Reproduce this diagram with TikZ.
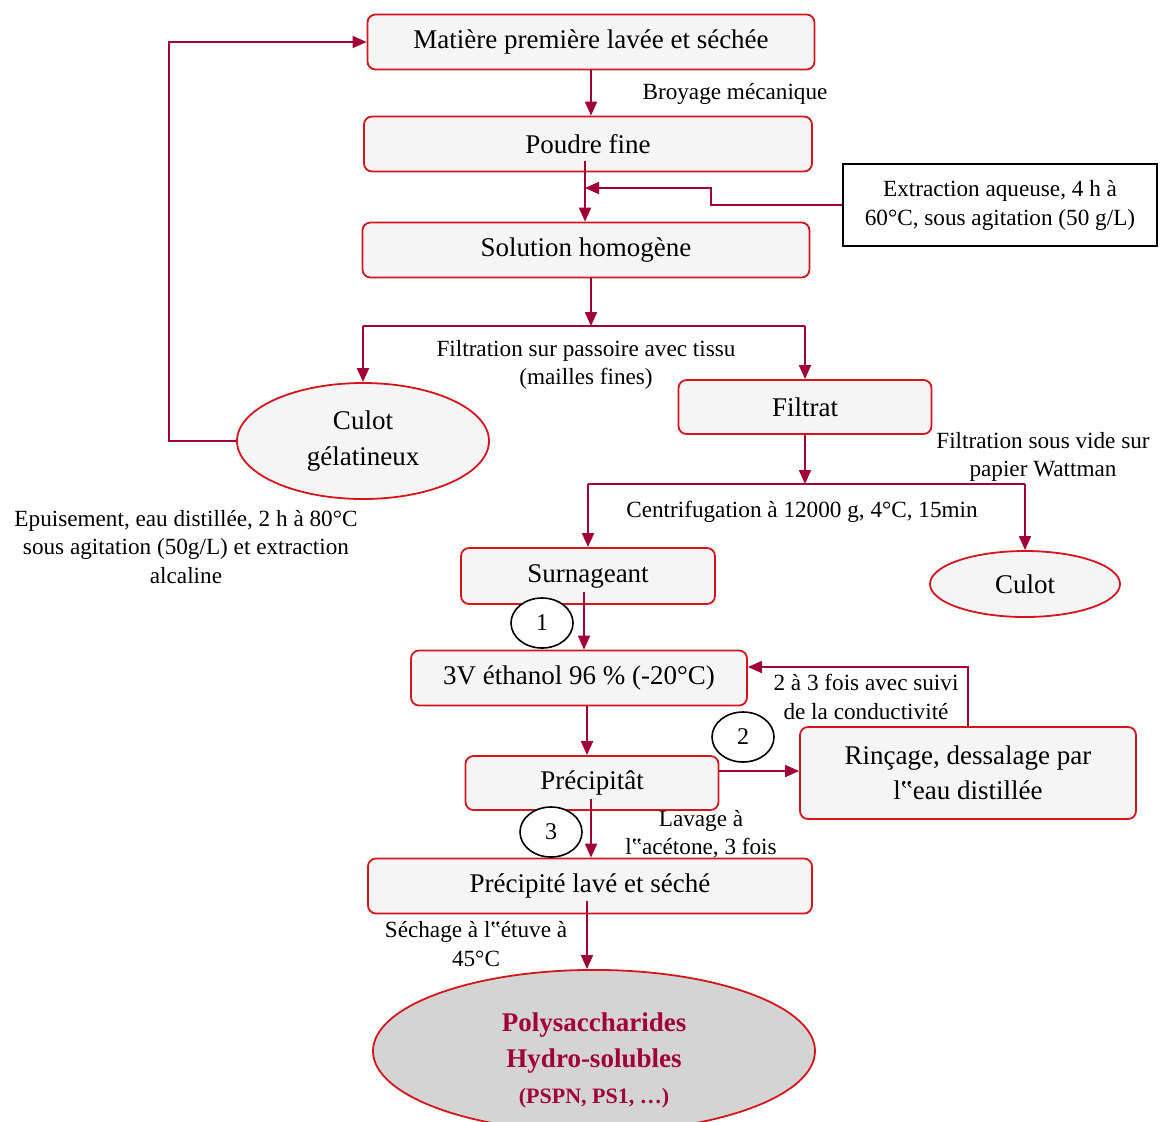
\documentclass[tikz,border=0pt]{standalone}
\usepackage{fontspec}
\setmainfont{Liberation Serif}
\usetikzlibrary{arrows.meta,calc,positioning,shapes.geometric}
\definecolor{flowred}{RGB}{160,0,55}
\definecolor{boxred}{RGB}{212,22,28}
\definecolor{ovalgray}{RGB}{212,212,212}
\tikzset{
  process box/.style={draw=boxred,rounded corners=4pt,fill=black!4,
    line width=0.9pt,inner sep=2pt,align=center,
    font={\fontsize{13.5}{17.5}\selectfont}},
  product oval/.style={ellipse,draw=boxred,fill=black!4,line width=0.9pt,
    inner sep=0pt,align=center,font={\fontsize{13.5}{18}\selectfont}},
  note box/.style={draw=black,line width=0.8pt,fill=white,align=center,
    font={\fontsize{11.6}{14.5}\selectfont}},
  stage label/.style={align=center,font={\fontsize{11.6}{14.3}\selectfont}},
  count mark/.style={ellipse,draw=black,line width=0.8pt,fill=white,
    minimum width=31pt,minimum height=25pt,inner sep=0pt,
    font={\fontsize{12}{14}\selectfont}},
  flow arrow/.style={-{Triangle[length=7pt,width=6pt]},draw=flowred,line width=0.9pt},
  flow line/.style={draw=flowred,line width=0.9pt},
}

\begin{document}
\begin{tikzpicture}[x=0.5pt,y=-0.5pt]
  \useasboundingbox (0,0) rectangle (1161,1121);
  \clip (0,0) rectangle (1161,1121);

  % Main column
  \node[process box,minimum width=223.5pt,minimum height=27.5pt] (raw) at (591,42)
    {Matière première lavée et séchée};
  \node[process box,minimum width=224pt,minimum height=27.5pt] (powder) at (588,144)
    {Poudre fine};
  \node[note box,minimum width=157pt,minimum height=41pt] (extract) at (1000,205)
    {Extraction aqueuse, 4 h à\\60°C, sous agitation (50 g/L)};
  \node[process box,minimum width=223.5pt,minimum height=27.5pt] (solution) at (586,250)
    {Solution homogène};

  % First filtration
  \node[product oval,minimum width=126pt,minimum height=58pt] (culotgel) at (363,441)
    {Culot\\gélatineux};
  \node[process box,minimum width=126.5pt,minimum height=27pt] (filtrat) at (805,407)
    {Filtrat};
  \node[process box,minimum width=127pt,minimum height=28pt] (surnag) at (588,576)
    {Surnageant};
  \node[product oval,minimum width=95pt,minimum height=33pt] (culot) at (1025,584)
    {Culot};

  % Precipitation and washing
  \node[process box,minimum width=168pt,minimum height=27.5pt] (ethanol) at (579,678)
    {3V éthanol 96 \% (-20°C)};
  \node[process box,minimum width=126.5pt,minimum height=27pt] (precip) at (592,783)
    {Précipitât};
  \node[process box,minimum width=168pt,minimum height=46pt] (rinse) at (968,773)
    {Rinçage, dessalage par\\l‟eau distillée};
  \node[stage label] (lavage) at (701,834) {Lavage à\\l‟acétone, 3 fois};
  \node[process box,minimum width=222pt,minimum height=27.5pt] (washed) at (590,886)
    {Précipité lavé et séché};
  \node[product oval,fill=ovalgray,text=flowred,font={\bfseries\fontsize{13.5}{18}\selectfont},
    minimum width=221pt,minimum height=80pt] (polys) at (594,1051)
    {\rule{0pt}{19pt}Polysaccharides\\Hydro-solubles\\{\fontsize{11}{18}\selectfont (PSPN, PS1, \ldots)}};

  % Step labels
  \node[stage label] (broy) at (735,94) {Broyage mécanique};
  \node[stage label] (filt1) at (586,365) {Filtration sur passoire avec tissu\\(mailles fines)};
  \node[stage label] (epuis) at (186,547)
    {Epuisement, eau distillée, 2 h à 80°C\\sous agitation (50g/L) et extraction\\alcaline};
  \node[stage label] (filt2) at (1043,457) {Filtration sous vide sur\\papier Wattman};
  \node[stage label] (centri) at (802,512) {Centrifugation à 12000 g, 4°C, 15min};
  \node[stage label] (suivi) at (866,697) {2 à 3 fois avec suivi\\de la conductivité};
  \node[stage label] (sechage) at (476,944) {Séchage à l‟étuve à\\45°C};

  % Connectors
  \coordinate (join) at ($(powder.south |- 0,188)+(-3,0)$);
  \coordinate (bend) at (711,188);
  \coordinate (split1) at (solution.south |- 0,326);
  \coordinate (split2) at (filtrat.south |- 0,484);
  \draw[flow arrow] (raw.south) -- (raw.south |- powder.north);
  \draw[flow arrow] ([xshift=-1.5pt,yshift=5.5pt]powder.south)
    -- ([xshift=-1.5pt]powder.south |- solution.north);
  \draw[flow arrow] (extract.west) -| (bend) -- (join);
  \draw[flow arrow] ([xshift=2.5pt]solution.south) -- ([xshift=2.5pt]split1);
  \draw[flow line] (culotgel.north |- split1) -- (filtrat.north |- split1);
  \draw[flow arrow] (culotgel.north |- split1) -- (culotgel.north);
  \draw[flow arrow] (filtrat.north |- split1) -- (filtrat.north);
  \draw[flow arrow] (culotgel.west) -- ++(-67,0) |- (raw.west);
  \draw[flow arrow] (filtrat.south) -- (split2);
  \draw[flow line] (surnag.north |- split2) -- (culot.north |- split2);
  \draw[flow arrow] (surnag.north |- split2) -- (surnag.north);
  \draw[flow arrow] (culot.north |- split2) -- (culot.north);
  \draw[flow arrow] ([xshift=-2pt,yshift=6.5pt]surnag.south)
    -- ([xshift=-2pt]surnag.south |- ethanol.north);
  \draw[flow arrow] ([xshift=4pt]ethanol.south) -- ([xshift=4pt]ethanol.south |- precip.north);
  \draw[flow arrow] ([yshift=6pt]precip.east) -- ([yshift=6pt]precip.east -| rinse.west);
  \draw[flow arrow] (rinse.north) |- ([yshift=5.5pt]ethanol.east);
  \draw[flow arrow] ([xshift=-0.5pt,yshift=6pt]precip.south)
    -- ([xshift=-0.5pt]precip.south |- washed.north);
  \draw[flow arrow] ([xshift=-1.5pt,yshift=6.5pt]washed.south)
    -- ([xshift=-1.5pt]washed.south |- polys.north);

  % Numbered marks
  \node[count mark] (mark1) at (542,623) {1};
  \node[count mark] (mark2) at (743,737) {2};
  \node[count mark] (mark3) at (551,832) {3};
\end{tikzpicture}
\end{document}
